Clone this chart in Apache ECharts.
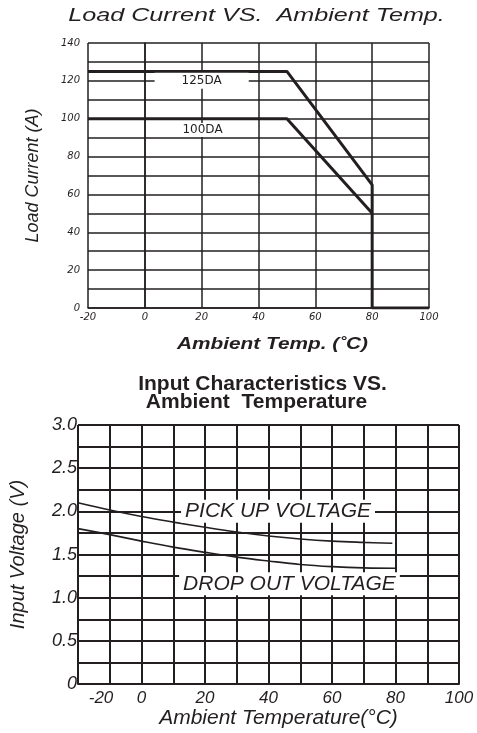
<!DOCTYPE html>
<html><head><meta charset="utf-8">
<script src="https://cdn.jsdelivr.net/npm/echarts@6/dist/echarts.min.js"></script>
<style>html,body{margin:0;padding:0;background:#fff}#c{width:477px;height:733px}</style>
</head><body><div id="c"></div>
<script>
const INK = '#231f20';
const SANS = '"Liberation Sans", Arial, sans-serif';
const WIDE = '"DejaVu Sans", sans-serif';

// ---- Chart 1: Load Current vs Ambient Temp ----
const loadTempTicks = [-20, 0, 20, 40, 60, 80, 100];
const loadCurrentTicks = [0, 20, 40, 60, 80, 100, 120, 140];
const da125X = [-20, 50, 80, 80, 100];
const da125Y = [125, 125, 65, 0, 0];
const da100X = [-20, 50, 80];
const da100Y = [100, 100, 50];
const loadLabels = ['125DA', '100DA'];
const loadLabelX = [20, 20.3];
const loadLabelY = [120, 94];

// ---- Chart 2: Input Characteristics vs Ambient Temperature ----
const inputTempTicks = [-20, 0, 20, 40, 60, 80, 100];
const inputVoltTicks = ['0', '0.5', '1.0', '1.5', '2.0', '2.5', '3.0'];
const pickX = [-20, -10, 0, 10, 20, 30, 40, 50, 60, 70, 79];
const pickY = [2.10, 2.015, 1.94, 1.875, 1.815, 1.76, 1.715, 1.68, 1.655, 1.64, 1.63];
const dropX = [-20, -10, 0, 10, 20, 30, 40, 50, 60, 70, 80];
const dropY = [1.80, 1.73, 1.655, 1.585, 1.525, 1.47, 1.425, 1.385, 1.36, 1.345, 1.34];
const voltLabels = ['PICK UP VOLTAGE', 'DROP OUT VOLTAGE'];
const voltLabelX = [43, 46.6];
const voltLabelY = [2.0, 1.16];

const zip = (xs, ys) => xs.map((x, i) => [x, ys[i]]);
const zip3 = (xs, ys, ts) => xs.map((x, i) => [x, ys[i], ts[i]]);

// label box paddings (style only): the 125DA box breaks the 120 gridline widely
const loadLabelData = zip3(loadLabelX, loadLabelY, loadLabels).map((v, i) => ({
  value: v, label: {padding: i === 0 ? [2, 27] : [1, 3]}
}));

const chart = echarts.init(document.getElementById('c'), null, {renderer: 'canvas'});
const option = {
  animation: false,
  backgroundColor: '#fff',
  grid: [
    {left: 88, top: 43, width: 341, height: 265},
    {left: 78, top: 425, width: 381, height: 259}
  ],
  xAxis: [
    {
      type: 'value', gridIndex: 0, min: -20, max: 100, interval: 20,
      axisLine: {show: true, lineStyle: {color: INK, width: 1.5}},
      axisTick: {show: false},
      splitLine: {show: true, lineStyle: {color: INK, width: 1.5}},
      axisLabel: {
        margin: 4, color: INK, fontFamily: WIDE, fontStyle: 'italic', fontSize: 10,
        formatter: v => loadTempTicks.includes(v) ? String(v) : ''
      }
    },
    {
      type: 'value', gridIndex: 1, min: -20, max: 100, interval: 10,
      axisLine: {show: true, lineStyle: {color: INK, width: 2}},
      axisTick: {show: false},
      splitLine: {show: true, lineStyle: {color: INK, width: 2}},
      axisLabel: {
        margin: 6, color: INK, fontFamily: SANS, fontStyle: 'italic', fontSize: 17,
        formatter: v => v === -20 ? '{s|-20}' : (inputTempTicks.includes(v) ? String(v) : ''),
        rich: {s: {padding: [0, 0, 0, 46], color: INK, fontFamily: SANS, fontStyle: 'italic', fontSize: 17}}
      },
      name: 'Ambient Temperature(°C)', nameLocation: 'middle', nameGap: 24,
      nameTextStyle: {color: INK, fontFamily: SANS, fontStyle: 'italic', fontSize: 21, padding: [0, 0, 0, 20]}
    }
  ],
  yAxis: [
    {
      type: 'value', gridIndex: 0, min: 0, max: 140, interval: 10,
      axisLine: {show: true, lineStyle: {color: INK, width: 1.5}},
      axisTick: {show: false},
      splitLine: {show: true, lineStyle: {color: INK, width: 1.5}},
      axisLabel: {
        margin: 8, color: INK, fontFamily: WIDE, fontStyle: 'italic', fontSize: 10,
        formatter: v => loadCurrentTicks.includes(v) ? String(v) : ''
      },
      name: 'Load Current (A)', nameLocation: 'middle', nameGap: 46,
      nameTextStyle: {color: INK, fontFamily: SANS, fontStyle: 'italic', fontSize: 18}
    },
    {
      type: 'value', gridIndex: 1, min: 0, max: 3, interval: 0.25,
      axisLine: {show: true, lineStyle: {color: INK, width: 2}},
      axisTick: {show: false},
      splitLine: {show: true, lineStyle: {color: INK, width: 2}},
      axisLabel: {
        margin: 1, color: INK, fontFamily: SANS, fontStyle: 'italic', fontSize: 18,
        formatter: v => {
          const s = v === 0 ? '0' : v.toFixed(1);
          return inputVoltTicks.includes(s) ? s : '';
        }
      },
      name: 'Input Voltage (V)', nameLocation: 'middle', nameGap: 50,
      nameTextStyle: {color: INK, fontFamily: SANS, fontStyle: 'italic', fontSize: 20}
    }
  ],
  graphic: [
    {type: 'text', x: 256.5, y: 16, scaleX: 1.36,
     style: {text: 'Load Current VS.  Ambient Temp.', x: 0, y: 0, textAlign: 'center', textVerticalAlign: 'middle',
             fontFamily: SANS, fontStyle: 'italic', fontSize: 18.5, fill: INK}},
    {type: 'text', x: 272.5, y: 345, scaleX: 1.3,
     style: {text: 'Ambient Temp. (˚C)', x: 0, y: 0, textAlign: 'center', textVerticalAlign: 'middle',
             fontFamily: SANS, fontStyle: 'italic', fontWeight: 'bold', fontSize: 16, fill: INK}},
    {type: 'text', x: 262.5, y: 384,
     style: {text: 'Input Characteristics VS.', x: 0, y: 0, textAlign: 'center', textVerticalAlign: 'middle',
             fontFamily: SANS, fontWeight: 'bold', fontSize: 21, fill: INK}},
    {type: 'text', x: 256.5, y: 402.5,
     style: {text: 'Ambient  Temperature', x: 0, y: 0, textAlign: 'center', textVerticalAlign: 'middle',
             fontFamily: SANS, fontWeight: 'bold', fontSize: 21, fill: INK}}
  ],
  series: [
    {type: 'line', xAxisIndex: 0, yAxisIndex: 0, data: zip(da125X, da125Y), showSymbol: false,
     lineStyle: {color: INK, width: 3}, z: 3},
    {type: 'line', xAxisIndex: 0, yAxisIndex: 0, data: zip(da100X, da100Y), showSymbol: false,
     lineStyle: {color: INK, width: 3}, z: 3},
    {type: 'scatter', xAxisIndex: 0, yAxisIndex: 0, data: loadLabelData,
     symbolSize: 0, itemStyle: {color: '#fff', opacity: 1}, z: 5, silent: true,
     label: {show: true, position: 'inside', formatter: p => p.value[2], color: INK, opacity: 1,
             fontFamily: WIDE, fontSize: 12, backgroundColor: '#fff', padding: [2, 4]}},
    {type: 'line', xAxisIndex: 1, yAxisIndex: 1, data: zip(pickX, pickY), showSymbol: false, smooth: 0.4,
     lineStyle: {color: INK, width: 1.6}, z: 3},
    {type: 'line', xAxisIndex: 1, yAxisIndex: 1, data: zip(dropX, dropY), showSymbol: false, smooth: 0.4,
     lineStyle: {color: INK, width: 1.6}, z: 3},
    {type: 'scatter', xAxisIndex: 1, yAxisIndex: 1, data: zip3(voltLabelX, voltLabelY, voltLabels),
     symbolSize: 0, itemStyle: {color: '#fff', opacity: 1}, z: 5, silent: true,
     label: {show: true, position: 'inside', formatter: p => p.data[2], color: INK, opacity: 1,
             fontFamily: SANS, fontStyle: 'italic', fontSize: 21, backgroundColor: '#fff', padding: [1, 4]}}
  ]
};
chart.setOption(option);
</script>
</body></html>
